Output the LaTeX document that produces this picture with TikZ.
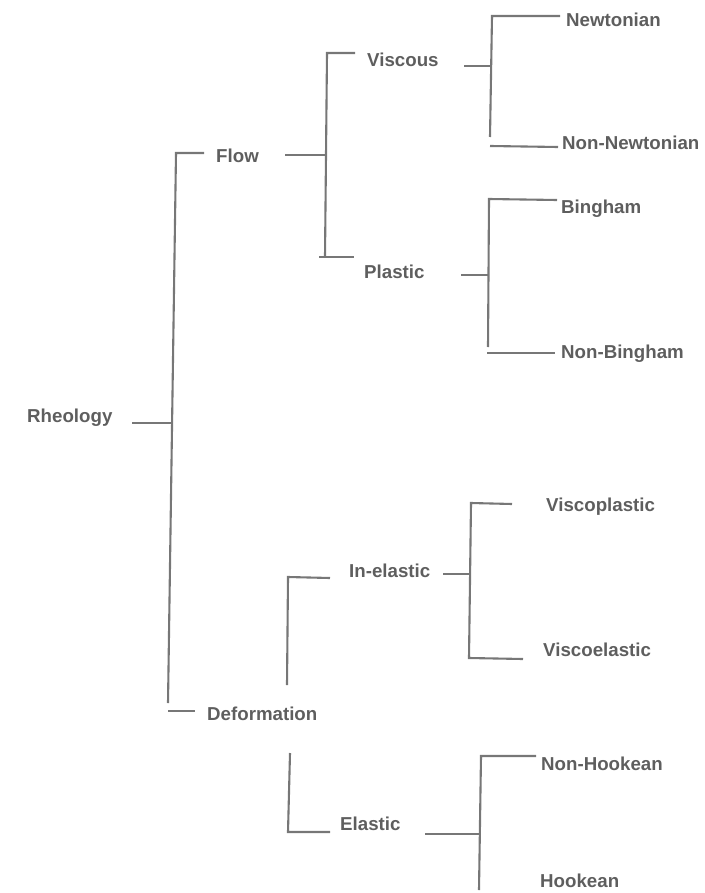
\documentclass[tikz,border=0pt]{standalone}
\usepackage{fontspec}
\setmainfont{Liberation Sans}
\definecolor{labelgray}{HTML}{5E5E5E}
\definecolor{linegray}{HTML}{777777}
\tikzset{
  term/.style={anchor=west, inner sep=0pt, text height=13.2pt, text depth=0pt,
    text=labelgray, font=\fontsize{18.7}{22}\selectfont\bfseries},
  link/.style={draw=linegray, line width=2.1pt, line cap=butt, line join=miter}
}
\begin{document}
\begin{tikzpicture}[x=1pt,y=-1pt]
\useasboundingbox (0,0) rectangle (704,893);

% labels of the classification tree
\node[term] (rheo)   at (27,416)  {Rheology};
\node[term] (flow)   at (216,156) {Flow};
\node[term] (deform) at (207,714) {Deformation};
\node[term] (visc)   at (367,60)  {Viscous};
\node[term] (plast)  at (364,272) {Plastic};
\node[term] (newt)   at (566,20)  {Newtonian};
\node[term] (nnewt)  at (562,143) {Non-Newtonian};
\node[term] (bing)   at (561,207) {Bingham};
\node[term] (nbing)  at (561,352) {Non-Bingham};
\node[term] (inel)   at (349,571) {In-elastic};
\node[term] (vplast) at (546,505) {Viscoplastic};
\node[term] (velast) at (543,650) {Viscoelastic};
\node[term] (elast)  at (340,824) {Elastic};
\node[term] (nhook)  at (541,764) {Non-Hookean};
\node[term] (hook)   at (540,881) {Hookean};

% Rheology -> Flow / Deformation
\coordinate (r0) at (132,423);
\coordinate (r1) at (172,423);
\coordinate (rt) at (176,153);
\coordinate (rb) at (168,703);
\coordinate (rf) at (204,153);
\coordinate (rd0) at (168,711);
\coordinate (rd1) at (195,711);
\draw[link] (r0) -- (r1);
\draw[link] (rf) -- (rt) -- (rb);
\draw[link] (rd0) -- (rd1);

% Flow -> Viscous / Plastic
\coordinate (f0) at (285,155);
\coordinate (f1) at (326,155);
\coordinate (ft) at (327,53);
\coordinate (fv) at (355,53);
\coordinate (fb) at (325,257);
\coordinate (fp0) at (319,257);
\coordinate (fp1) at (354,257);
\draw[link] (f0) -- (f1);
\draw[link] (fv) -- (ft) -- (fb);
\draw[link] (fp0) -- (fp1);

% Viscous -> Newtonian / Non-Newtonian
\coordinate (v0) at (464,66);
\coordinate (v1) at (491,66);
\coordinate (vt) at (492,16);
\coordinate (vn) at (560,16);
\coordinate (vb) at (490,137);
\coordinate (vnn0) at (490,146);
\coordinate (vnn1) at (558,147);
\draw[link] (v0) -- (v1);
\draw[link] (vn) -- (vt) -- (vb);
\draw[link] (vnn0) -- (vnn1);

% Plastic -> Bingham / Non-Bingham
\coordinate (p0) at (461,275);
\coordinate (p1) at (489,275);
\coordinate (pt) at (489,199);
\coordinate (pbg) at (557,200);
\coordinate (pb) at (488,347);
\coordinate (pnb0) at (487,353);
\coordinate (pnb1) at (555,353);
\draw[link] (p0) -- (p1);
\draw[link] (pbg) -- (pt) -- (pb);
\draw[link] (pnb0) -- (pnb1);

% Deformation -> In-elastic / Elastic
\coordinate (di0) at (330,578);
\coordinate (dit) at (288,577);
\coordinate (dib) at (287,685);
\coordinate (det) at (290,753);
\coordinate (deb) at (288,832);
\coordinate (de1) at (330,832);
\draw[link] (di0) -- (dit) -- (dib);
\draw[link] (det) -- (deb) -- (de1);

% In-elastic -> Viscoplastic / Viscoelastic
\coordinate (i0) at (443,574);
\coordinate (i1) at (470,574);
\coordinate (it) at (471,503);
\coordinate (ivp) at (512,504);
\coordinate (ib) at (469,658);
\coordinate (ive) at (523,659);
\draw[link] (i0) -- (i1);
\draw[link] (ivp) -- (it) -- (ib) -- (ive);

% Elastic -> Non-Hookean / Hookean
\coordinate (e0) at (425,834);
\coordinate (e1) at (480,834);
\coordinate (et) at (481,756);
\coordinate (enh) at (536,756);
\coordinate (eb) at (479,890);
\draw[link] (e0) -- (e1);
\draw[link] (enh) -- (et) -- (eb);
\end{tikzpicture}
\end{document}
